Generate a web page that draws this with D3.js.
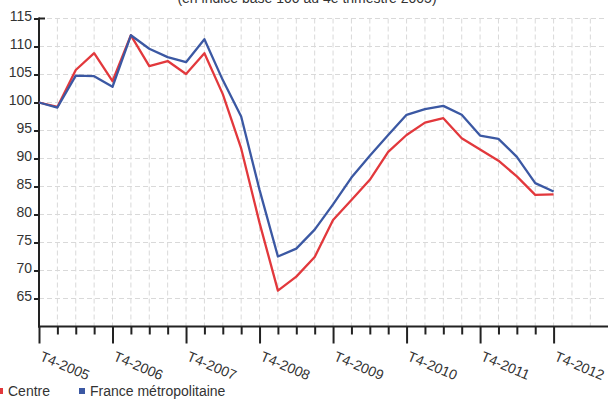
<!DOCTYPE html>
<html>
<head>
<meta charset="utf-8">
<script src="https://cdn.jsdelivr.net/npm/d3@7"></script>
<style>
html,body{margin:0;padding:0;background:#fff;}
svg{display:block;}
text{font-family:"Liberation Sans",Arial,Helvetica,sans-serif;}
</style>
</head>
<body>
<svg id="c" width="608" height="400"></svg>
<script>
const title = "(en indice base 100 au 4e trimestre 2005)";
const yearLabels = ["T4-2005","T4-2006","T4-2007","T4-2008","T4-2009","T4-2010","T4-2011","T4-2012"];
const yTicks = [65,70,75,80,85,90,95,100,105,110,115];
const seriesNames = ["Centre","France métropolitaine"];
const centre = [100,99.2,105.8,108.8,103.8,112,106.5,107.4,105.1,108.8,101.5,91.8,78.5,66.4,68.9,72.4,79.0,82.6,86.2,91.2,94.2,96.4,97.2,93.6,91.6,89.6,86.8,83.5,83.6];
const france = [100,99.1,104.8,104.7,102.8,112,109.6,108.1,107.2,111.3,104.0,97.5,84.4,72.5,73.9,77.3,81.8,86.6,90.5,94.2,97.8,98.8,99.4,97.8,94.1,93.5,90.3,85.6,84.1];
const colors = ["#e2383c","#3b58a3"];

const svg = d3.select("#c");
const x0 = 39, yTop = 18.5, yBot = 326.5;
const x = d3.scaleLinear().domain([0,28]).range([x0, 553.6]);
const y = d3.scaleLinear().domain([60,115]).range([yBot, yTop]);

// title (cut at top as in the reference)
svg.append("text").attr("x",307).attr("y",3).attr("text-anchor","middle")
  .attr("font-size",14).attr("fill","#333").text(title);

// grid
const g = svg.append("g").attr("stroke","#d9d9d9").attr("stroke-width",1).attr("stroke-dasharray","5,3");
yTicks.forEach(v=>{
  g.append("line").attr("x1",x0).attr("x2",606).attr("y1",y(v)).attr("y2",y(v));
});
d3.range(1,31).forEach(i=>{
  g.append("line").attr("x1",x(i)).attr("x2",x(i)).attr("y1",yTop).attr("y2",yBot);
});

// y axis
const yAxis = d3.axisLeft(y).tickValues(yTicks).tickSize(5).tickPadding(2).tickFormat(d3.format("d"));
const ya = svg.append("g").attr("transform",`translate(${x0},0)`).call(yAxis);
ya.select(".domain").remove();
ya.selectAll(".tick line").attr("stroke","#222").attr("stroke-width",2);
ya.selectAll(".tick text").attr("font-size",14).attr("fill","#333").attr("dy","0.15em")
  .attr("font-family","'Liberation Sans',Arial,sans-serif");
svg.append("line").attr("x1",x0).attr("x2",x0).attr("y1",yTop-1).attr("y2",yBot+1)
  .attr("stroke","#222").attr("stroke-width",2);
svg.append("line").attr("x1",x0).attr("x2",x0+6).attr("y1",yTop).attr("y2",yTop)
  .attr("stroke","#222").attr("stroke-width",2);

// x axis
svg.append("line").attr("x1",x0-1).attr("x2",608).attr("y1",yBot).attr("y2",yBot)
  .attr("stroke","#222").attr("stroke-width",2);
const xAxis = d3.axisBottom(x).tickValues(d3.range(0,29)).tickSize(8).tickFormat("");
const xa = svg.append("g").attr("transform",`translate(0,${yBot})`).call(xAxis);
xa.select(".domain").remove();
xa.selectAll(".tick line").attr("stroke","#222").attr("stroke-width",2)
  .attr("y2",d=> d%4===0 ? 17 : 8);
yearLabels.forEach((lab,k)=>{
  svg.append("text").attr("transform",`translate(${x(k*4)},360) rotate(23)`)
    .attr("font-size",14).attr("fill","#333").text(lab);
});

// lines
const line = d3.line().x((d,i)=>x(i)).y(d=>y(d));
[centre,france].forEach((s,k)=>{
  svg.append("path").datum(s).attr("d",line).attr("fill","none")
    .attr("stroke",colors[k]).attr("stroke-width",2.3).attr("stroke-linejoin","round");
});

// legend
const legX = [-3, 79];
seriesNames.forEach((n,k)=>{
  svg.append("rect").attr("x",legX[k]).attr("y",388).attr("width",6).attr("height",6).attr("fill",colors[k]);
  svg.append("text").attr("x",legX[k]+11).attr("y",396).attr("font-size",14).attr("fill","#333").text(n);
});
</script>
</body>
</html>
